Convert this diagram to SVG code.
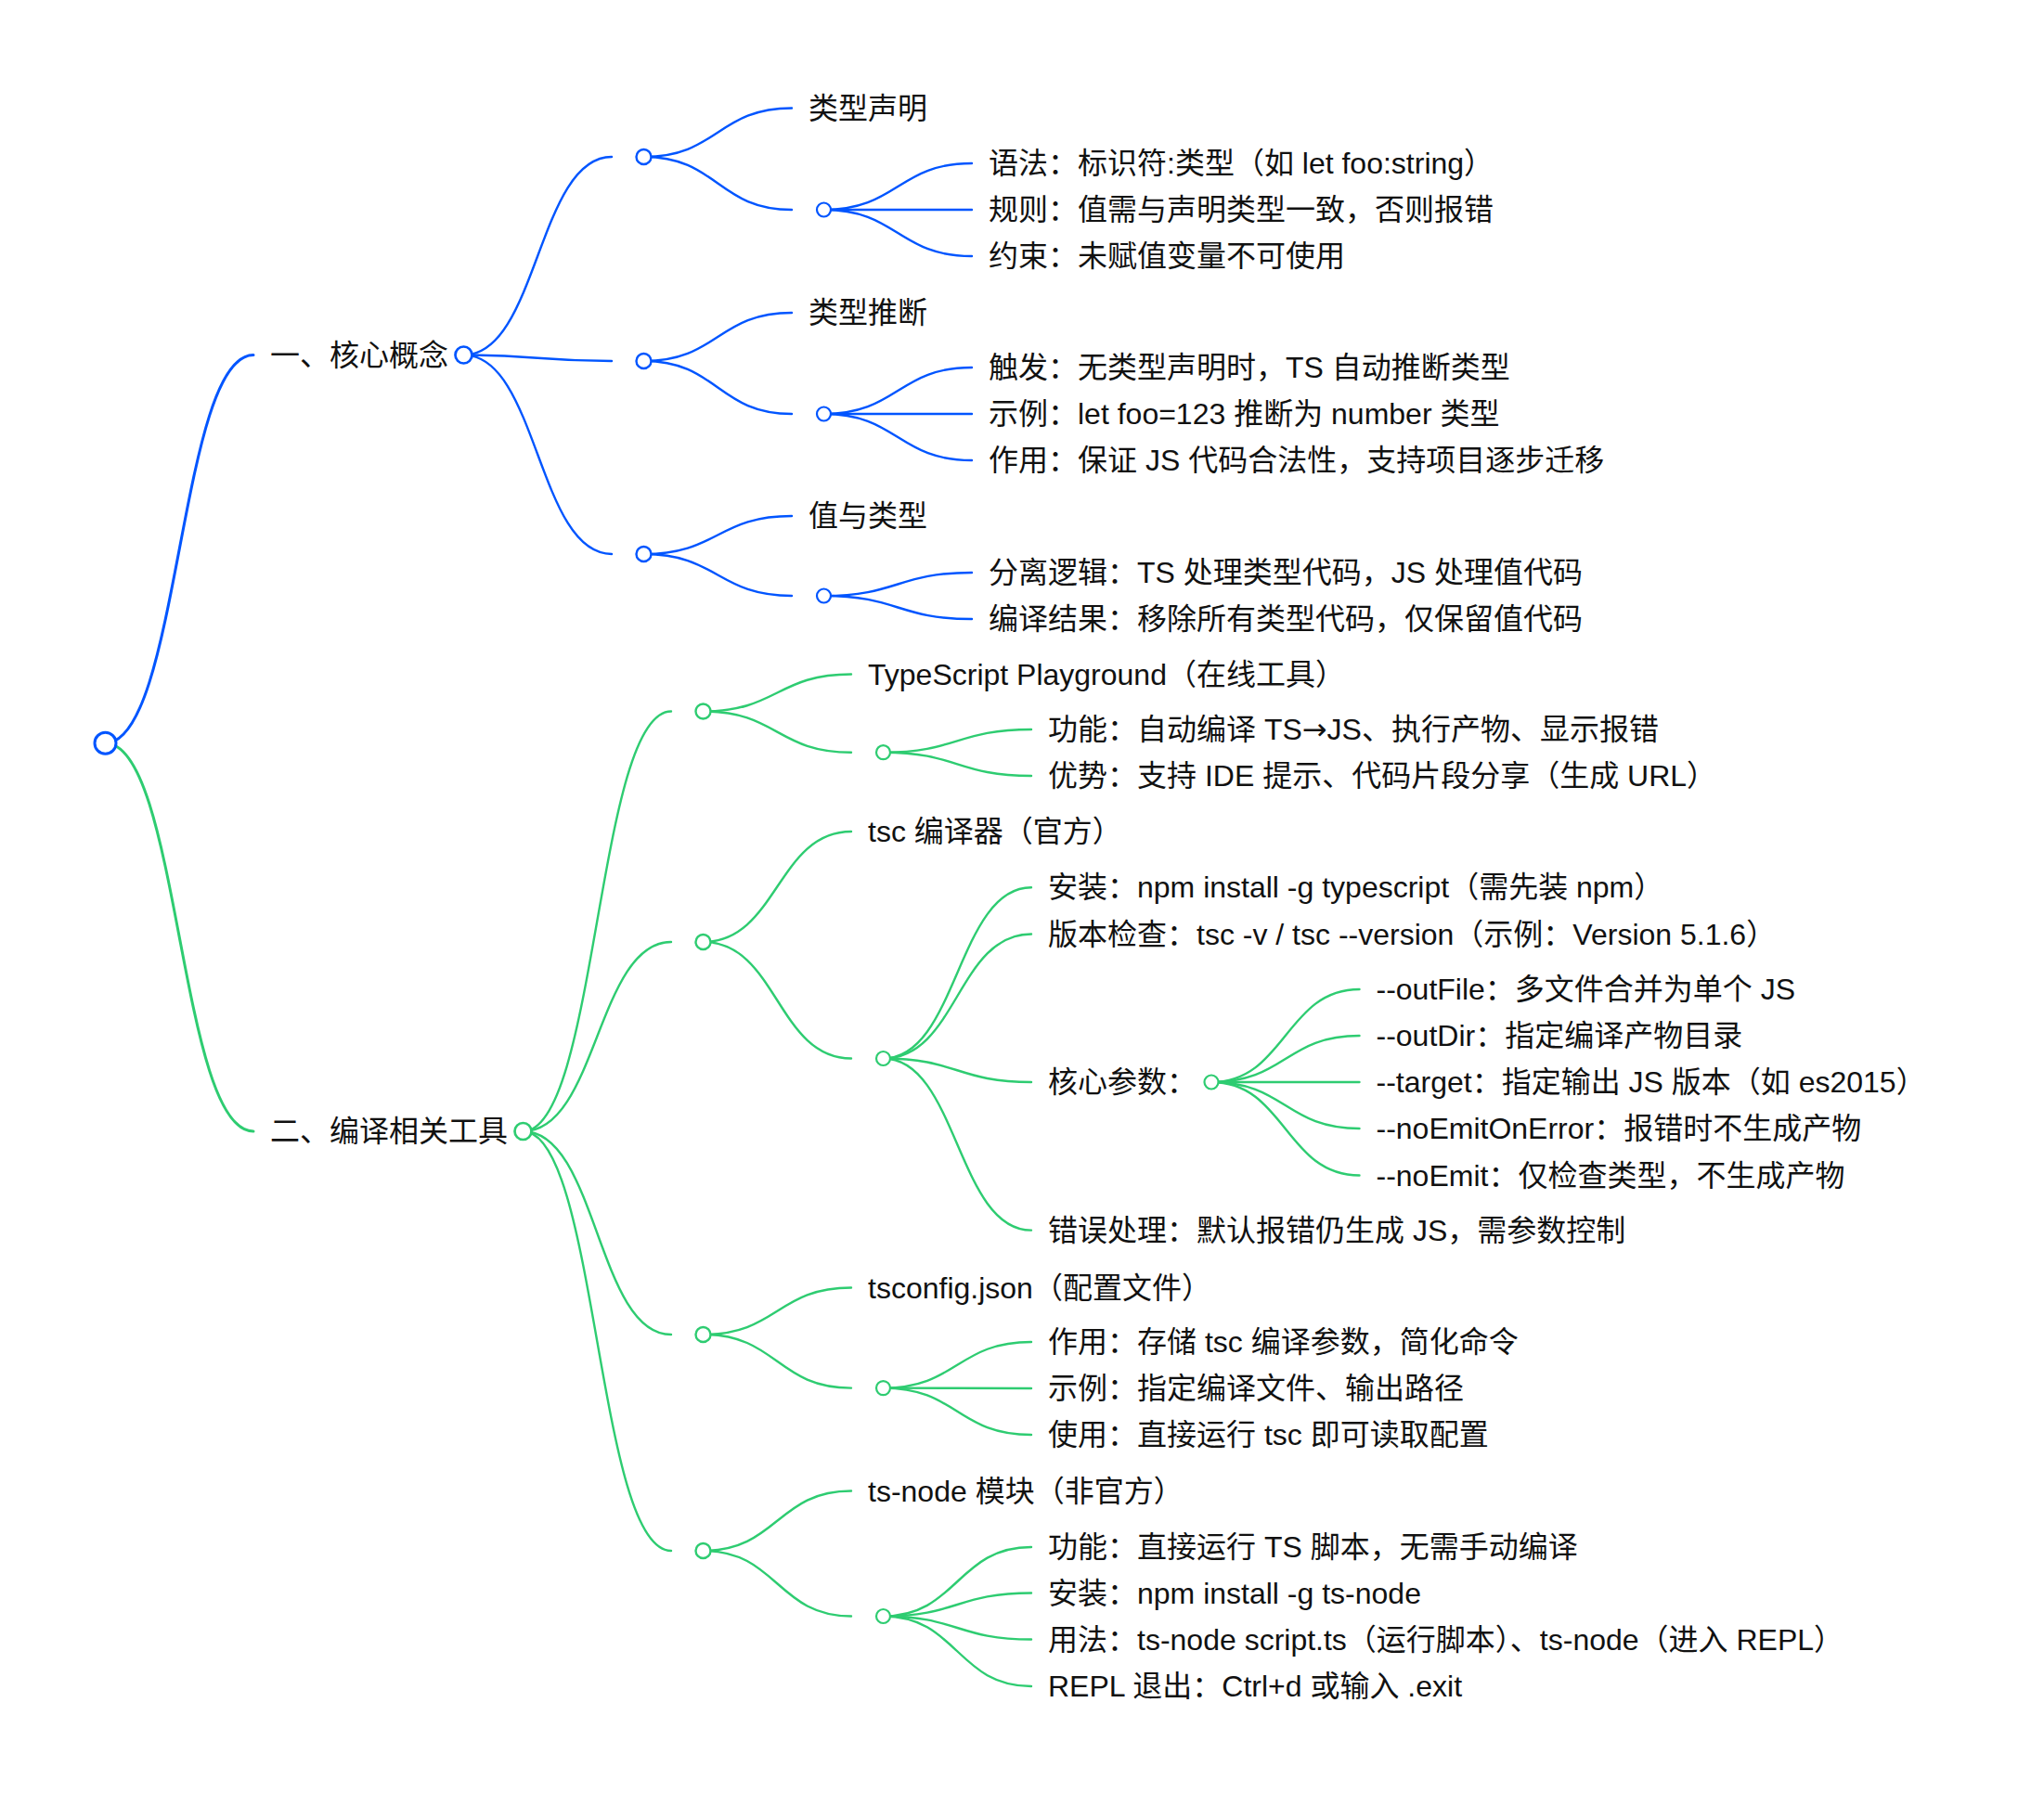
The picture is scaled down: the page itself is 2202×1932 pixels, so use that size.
<svg xmlns="http://www.w3.org/2000/svg" width="2202" height="1932" viewBox="0 0 2202 1932">
<style>
  .t { font-family: "Liberation Sans", "Noto Sans CJK SC", sans-serif; font-size: 32px; fill: #111; }
  .arrow { font-family: "DejaVu Sans", "Noto Sans CJK SC", sans-serif; }
  .lb { fill: none; stroke: #0055ff; stroke-width: 2.4; stroke-linecap: round; }
  .lg { fill: none; stroke: #2ecc71; stroke-width: 2.4; stroke-linecap: round; }
  .root { stroke-width: 3; }
  .cb { fill: #fff; stroke: #0055ff; }
  .cg { fill: #fff; stroke: #2ecc71; }
  .c0 { stroke-width: 3; }
  .c1 { stroke-width: 2.7; }
  .c2 { stroke-width: 2.4; }
  .c3 { stroke-width: 2.2; }
</style>
<rect width="2202" height="1932" fill="#fff"/>
<g id="connectors">
  <path class="lb root" d="M113.5,800.7 C193.25,800.7 193.25,382.5 273,382.5"/>
  <path class="lg root" d="M113.5,800.7 C193.25,800.7 193.25,1219 273,1219"/>
  <!-- blue -->
  <path class="lb" d="M499.5,382.5 C579.25,382.5 579.25,169 659,169"/>
  <path class="lb" d="M499.5,382.5 C579.25,382.5 579.25,389 659,389"/>
  <path class="lb" d="M499.5,382.5 C579.25,382.5 579.25,597 659,597"/>
  <path class="lb" d="M693.5,169 C773.25,169 773.25,116.5 853,116.5"/>
  <path class="lb" d="M693.5,169 C773.25,169 773.25,226 853,226"/>
  <path class="lb" d="M887.5,226 C967.25,226 967.25,176 1047,176"/>
  <path class="lb" d="M887.5,226 C967.25,226 967.25,226 1047,226"/>
  <path class="lb" d="M887.5,226 C967.25,226 967.25,276 1047,276"/>
  <path class="lb" d="M693.5,389 C773.25,389 773.25,337 853,337"/>
  <path class="lb" d="M693.5,389 C773.25,389 773.25,446 853,446"/>
  <path class="lb" d="M887.5,446 C967.25,446 967.25,396 1047,396"/>
  <path class="lb" d="M887.5,446 C967.25,446 967.25,446 1047,446"/>
  <path class="lb" d="M887.5,446 C967.25,446 967.25,496 1047,496"/>
  <path class="lb" d="M693.5,597 C773.25,597 773.25,556 853,556"/>
  <path class="lb" d="M693.5,597 C773.25,597 773.25,642 853,642"/>
  <path class="lb" d="M887.5,642 C967.25,642 967.25,617 1047,617"/>
  <path class="lb" d="M887.5,642 C967.25,642 967.25,667 1047,667"/>
  <!-- green -->
  <path class="lg" d="M563.5,1219 C643.25,1219 643.25,766.5 723,766.5"/>
  <path class="lg" d="M563.5,1219 C643.25,1219 643.25,1015 723,1015"/>
  <path class="lg" d="M563.5,1219 C643.25,1219 643.25,1438 723,1438"/>
  <path class="lg" d="M563.5,1219 C643.25,1219 643.25,1671 723,1671"/>
  <path class="lg" d="M757.5,766.5 C837.25,766.5 837.25,726.5 917,726.5"/>
  <path class="lg" d="M757.5,766.5 C837.25,766.5 837.25,810.7 917,810.7"/>
  <path class="lg" d="M951.5,810.7 C1031.25,810.7 1031.25,786 1111,786"/>
  <path class="lg" d="M951.5,810.7 C1031.25,810.7 1031.25,836 1111,836"/>
  <path class="lg" d="M757.5,1015 C837.25,1015 837.25,896 917,896"/>
  <path class="lg" d="M757.5,1015 C837.25,1015 837.25,1140.5 917,1140.5"/>
  <path class="lg" d="M951.5,1140.5 C1031.25,1140.5 1031.25,956.3 1111,956.3"/>
  <path class="lg" d="M951.5,1140.5 C1031.25,1140.5 1031.25,1006.5 1111,1006.5"/>
  <path class="lg" d="M951.5,1140.5 C1031.25,1140.5 1031.25,1166 1111,1166"/>
  <path class="lg" d="M951.5,1140.5 C1031.25,1140.5 1031.25,1325.6 1111,1325.6"/>
  <path class="lg" d="M1305,1166 C1384.75,1166 1384.75,1066 1464.5,1066"/>
  <path class="lg" d="M1305,1166 C1384.75,1166 1384.75,1116 1464.5,1116"/>
  <path class="lg" d="M1305,1166 C1384.75,1166 1384.75,1166 1464.5,1166"/>
  <path class="lg" d="M1305,1166 C1384.75,1166 1384.75,1216 1464.5,1216"/>
  <path class="lg" d="M1305,1166 C1384.75,1166 1384.75,1266.5 1464.5,1266.5"/>
  <path class="lg" d="M757.5,1438 C837.25,1438 837.25,1387.5 917,1387.5"/>
  <path class="lg" d="M757.5,1438 C837.25,1438 837.25,1495.6 917,1495.6"/>
  <path class="lg" d="M951.5,1495.6 C1031.25,1495.6 1031.25,1446 1111,1446"/>
  <path class="lg" d="M951.5,1495.6 C1031.25,1495.6 1031.25,1496 1111,1496"/>
  <path class="lg" d="M951.5,1495.6 C1031.25,1495.6 1031.25,1546 1111,1546"/>
  <path class="lg" d="M757.5,1671 C837.25,1671 837.25,1606.5 917,1606.5"/>
  <path class="lg" d="M757.5,1671 C837.25,1671 837.25,1741.5 917,1741.5"/>
  <path class="lg" d="M951.5,1741.5 C1031.25,1741.5 1031.25,1667 1111,1667"/>
  <path class="lg" d="M951.5,1741.5 C1031.25,1741.5 1031.25,1716.5 1111,1716.5"/>
  <path class="lg" d="M951.5,1741.5 C1031.25,1741.5 1031.25,1766.5 1111,1766.5"/>
  <path class="lg" d="M951.5,1741.5 C1031.25,1741.5 1031.25,1817 1111,1817"/>
</g>
<g id="nodes">
  <g id="n-root"><circle class="cb c0" cx="113.5" cy="800.7" r="11.5"/></g>
  <!-- blue branch -->
  <g id="n-core"><text class="t" x="291" y="393.5">一、核心概念</text><circle class="cb c1" cx="499.5" cy="382.5" r="9"/></g>
  <g id="n-a1"><circle class="cb c2" cx="693.5" cy="169" r="8"/></g>
  <g id="n-a1-title"><text class="t" x="871" y="127.5">类型声明</text></g>
  <g id="n-a1b"><circle class="cb c3" cx="887.5" cy="226" r="7.5"/></g>
  <g id="n-a1b-1"><text class="t" x="1065" y="187">语法：标识符:类型（如 let foo:string）</text></g>
  <g id="n-a1b-2"><text class="t" x="1065" y="237">规则：值需与声明类型一致，否则报错</text></g>
  <g id="n-a1b-3"><text class="t" x="1065" y="287">约束：未赋值变量不可使用</text></g>
  <g id="n-a2"><circle class="cb c2" cx="693.5" cy="389" r="8"/></g>
  <g id="n-a2-title"><text class="t" x="871" y="348">类型推断</text></g>
  <g id="n-a2b"><circle class="cb c3" cx="887.5" cy="446" r="7.5"/></g>
  <g id="n-a2b-1"><text class="t" x="1065" y="407">触发：无类型声明时，TS 自动推断类型</text></g>
  <g id="n-a2b-2"><text class="t" x="1065" y="457">示例：let foo=123 推断为 number 类型</text></g>
  <g id="n-a2b-3"><text class="t" x="1065" y="507">作用：保证 JS 代码合法性，支持项目逐步迁移</text></g>
  <g id="n-a3"><circle class="cb c2" cx="693.5" cy="597" r="8"/></g>
  <g id="n-a3-title"><text class="t" x="871" y="567">值与类型</text></g>
  <g id="n-a3b"><circle class="cb c3" cx="887.5" cy="642" r="7.5"/></g>
  <g id="n-a3b-1"><text class="t" x="1065" y="628">分离逻辑：TS 处理类型代码，JS 处理值代码</text></g>
  <g id="n-a3b-2"><text class="t" x="1065" y="678">编译结果：移除所有类型代码，仅保留值代码</text></g>
  <!-- green branch -->
  <g id="n-tools"><text class="t" x="291" y="1230">二、编译相关工具</text><circle class="cg c1" cx="563.5" cy="1219" r="9"/></g>
  <g id="n-b1"><circle class="cg c2" cx="757.5" cy="766.5" r="8"/></g>
  <g id="n-b1-title"><text class="t" x="935" y="737.5">TypeScript Playground（在线工具）</text></g>
  <g id="n-b1b"><circle class="cg c3" cx="951.5" cy="810.7" r="7.5"/></g>
  <g id="n-b1b-1"><text class="t" x="1129" y="797">功能：自动编译 TS<tspan class="arrow">→</tspan>JS、执行产物、显示报错</text></g>
  <g id="n-b1b-2"><text class="t" x="1129" y="847">优势：支持 IDE 提示、代码片段分享（生成 URL）</text></g>
  <g id="n-b2"><circle class="cg c2" cx="757.5" cy="1015" r="8"/></g>
  <g id="n-b2-title"><text class="t" x="935" y="907">tsc 编译器（官方）</text></g>
  <g id="n-b2b"><circle class="cg c3" cx="951.5" cy="1140.5" r="7.5"/></g>
  <g id="n-b2b-1"><text class="t" x="1129" y="967.3">安装：npm install -g typescript（需先装 npm）</text></g>
  <g id="n-b2b-2"><text class="t" x="1129" y="1017.5">版本检查：tsc -v / tsc --version（示例：Version 5.1.6）</text></g>
  <g id="n-b2b-3"><text class="t" x="1129" y="1177">核心参数：</text><circle class="cg c3" cx="1305" cy="1166" r="7.5"/></g>
  <g id="n-p1"><text class="t" x="1482.5" y="1077">--outFile：多文件合并为单个 JS</text></g>
  <g id="n-p2"><text class="t" x="1482.5" y="1127">--outDir：指定编译产物目录</text></g>
  <g id="n-p3"><text class="t" x="1482.5" y="1177">--target：指定输出 JS 版本（如 es2015）</text></g>
  <g id="n-p4"><text class="t" x="1482.5" y="1227">--noEmitOnError：报错时不生成产物</text></g>
  <g id="n-p5"><text class="t" x="1482.5" y="1277.5">--noEmit：仅检查类型，不生成产物</text></g>
  <g id="n-b2b-4"><text class="t" x="1129" y="1336.6">错误处理：默认报错仍生成 JS，需参数控制</text></g>
  <g id="n-b3"><circle class="cg c2" cx="757.5" cy="1438" r="8"/></g>
  <g id="n-b3-title"><text class="t" x="935" y="1398.5">tsconfig.json（配置文件）</text></g>
  <g id="n-b3b"><circle class="cg c3" cx="951.5" cy="1495.6" r="7.5"/></g>
  <g id="n-b3b-1"><text class="t" x="1129" y="1457">作用：存储 tsc 编译参数，简化命令</text></g>
  <g id="n-b3b-2"><text class="t" x="1129" y="1507">示例：指定编译文件、输出路径</text></g>
  <g id="n-b3b-3"><text class="t" x="1129" y="1557">使用：直接运行 tsc 即可读取配置</text></g>
  <g id="n-b4"><circle class="cg c2" cx="757.5" cy="1671" r="8"/></g>
  <g id="n-b4-title"><text class="t" x="935" y="1617.5">ts-node 模块（非官方）</text></g>
  <g id="n-b4b"><circle class="cg c3" cx="951.5" cy="1741.5" r="7.5"/></g>
  <g id="n-b4b-1"><text class="t" x="1129" y="1678">功能：直接运行 TS 脚本，无需手动编译</text></g>
  <g id="n-b4b-2"><text class="t" x="1129" y="1727.5">安装：npm install -g ts-node</text></g>
  <g id="n-b4b-3"><text class="t" x="1129" y="1777.5">用法：ts-node script.ts（运行脚本）、ts-node（进入 REPL）</text></g>
  <g id="n-b4b-4"><text class="t" x="1129" y="1828">REPL 退出：Ctrl+d 或输入 .exit</text></g>
</g>
</svg>
